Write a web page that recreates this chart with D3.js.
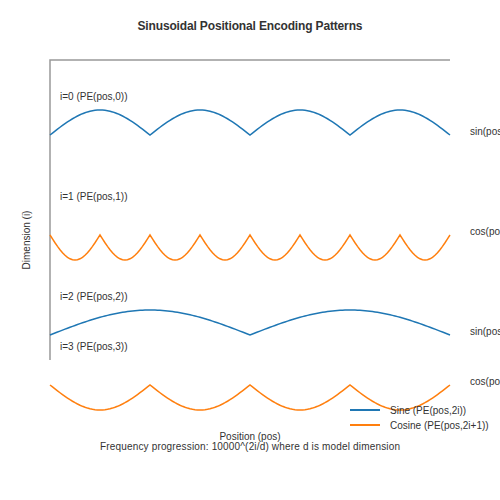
<!DOCTYPE html><html><head><meta charset="utf-8"><script src="https://d3js.org/d3.v7.min.js"></script>
<style>body{margin:0;background:#fff}text{font-family:"Liberation Sans",Arial,sans-serif;fill:#333}</style></head><body>
<svg id="c" width="500" height="500"></svg>
<script>
const positions = d3.range(0, 40.01, 0.25);
const dims = ["i=0 (PE(pos,0))","i=1 (PE(pos,1))","i=2 (PE(pos,2))","i=3 (PE(pos,3))"];
const kinds = ["sin","cos","sin","cos"];
const periods = [10, 5, 20, 10];   // half-period in pos units
const baselines = [0, 1, 2, 3];    // lane index
const rightLabels = ["sin(pos)","cos(pos)","sin(pos)","cos(pos)"];
const colors = {sin:"#1f77b4", cos:"#ff7f0e"};
const svg = d3.select("#c");
const x = d3.scaleLinear().domain([0,40]).range([50,450]);
const laneY = d3.scaleOrdinal().domain(baselines).range([135,235,335,385]);
const amp = 25;
svg.append("text").attr("x",250).attr("y",30).attr("text-anchor","middle").attr("font-size",12).attr("font-weight","bold").attr("textLength",225).text("Sinusoidal Positional Encoding Patterns");
svg.append("path").attr("d","M450,60H50V360").attr("fill","none").attr("stroke","#999").attr("stroke-width",1.5);
baselines.forEach((b,i)=>{
  const k=kinds[i], sign = (i===0||i===2)?-1:1;
  const line=d3.line().x(p=>x(p)).y(p=>laneY(b)+sign*amp*Math.abs(Math.sin(Math.PI*p/periods[i])));
  svg.append("path").datum(positions).attr("d",line).attr("fill","none").attr("stroke",colors[k]).attr("stroke-width",1.5);
  svg.append("text").attr("x",60).attr("y",[100,200,300,350][i]).attr("font-size",10).text(dims[i]);
  svg.append("text").attr("x",470).attr("y",laneY(b)-4).attr("dy","0.35em").attr("font-size",10).text(rightLabels[i]);
});
svg.append("text").attr("transform","translate(30,240)rotate(-90)").attr("text-anchor","middle").attr("font-size",10).text("Dimension (i)");
svg.append("text").attr("x",250).attr("y",440).attr("text-anchor","middle").attr("font-size",10).text("Position (pos)");
svg.append("text").attr("x",250).attr("y",450).attr("text-anchor","middle").attr("font-size",10).attr("textLength",300).text("Frequency progression: 10000^(2i/d) where d is model dimension");
[["Sine (PE(pos,2i))","#1f77b4"],["Cosine (PE(pos,2i+1))","#ff7f0e"]].forEach((d,j)=>{
  const y=410+j*15;
  svg.append("line").attr("x1",350).attr("x2",380).attr("y1",y).attr("y2",y).attr("stroke",d[1]).attr("stroke-width",2);
  svg.append("text").attr("x",390).attr("y",y).attr("dy","0.35em").attr("font-size",10).text(d[0]);
});
</script></body></html>
